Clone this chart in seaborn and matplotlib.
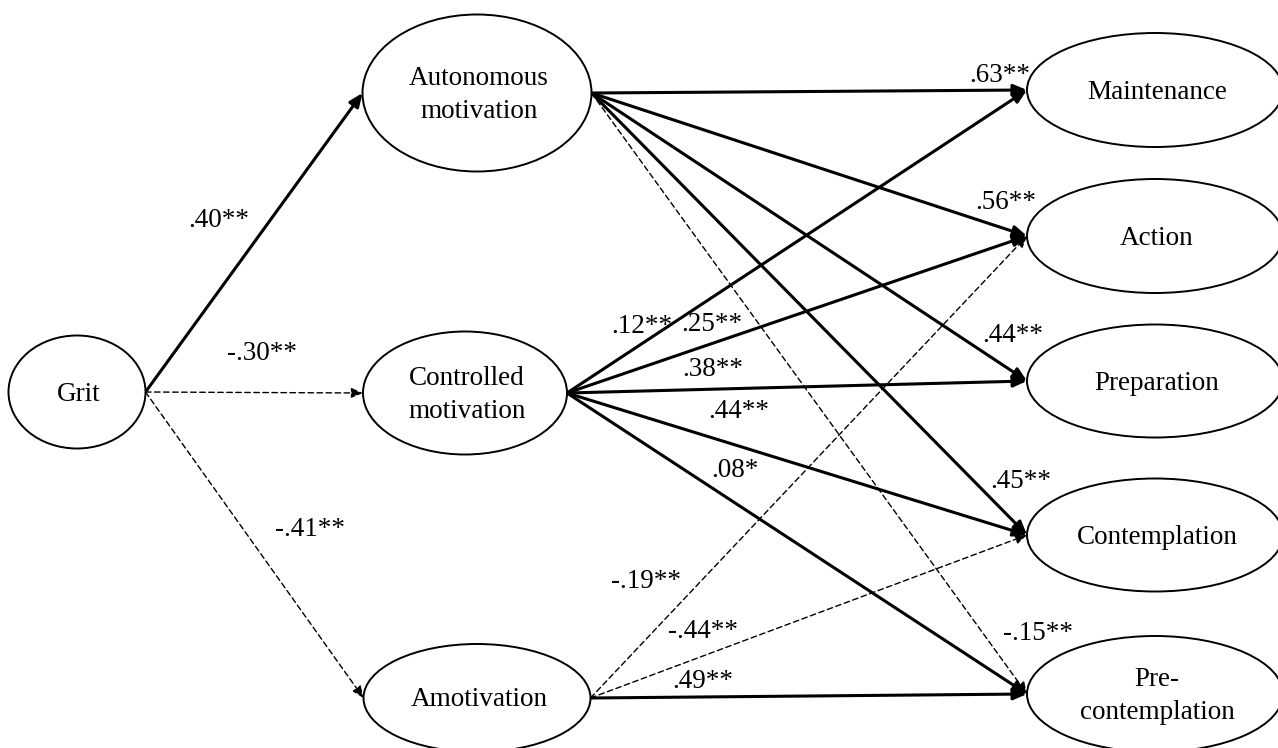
import matplotlib
matplotlib.use("Agg")
import matplotlib.pyplot as plt
from matplotlib.patches import Ellipse
import seaborn as sns

# path model: variables, paths and standardized coefficients
nodes = ["Grit", "Autonomous", "Controlled", "Amotivation",
         "Maintenance", "Action", "Preparation", "Contemplation", "Precontemplation"]
node_text = ["Grit", "Autonomous\nmotivation", "Controlled\nmotivation", "Amotivation",
             "Maintenance", "Action", "Preparation", "Contemplation", "Pre-\ncontemplation"]

sources = ["Grit", "Grit", "Grit",
           "Autonomous", "Autonomous", "Autonomous", "Autonomous", "Autonomous",
           "Controlled", "Controlled", "Controlled", "Controlled", "Controlled",
           "Amotivation", "Amotivation", "Amotivation"]
targets = ["Autonomous", "Controlled", "Amotivation",
           "Maintenance", "Action", "Preparation", "Contemplation", "Precontemplation",
           "Maintenance", "Action", "Preparation", "Contemplation", "Precontemplation",
           "Action", "Contemplation", "Precontemplation"]
coefs = [0.40, -0.30, -0.41,
         0.63, 0.56, 0.44, 0.45, -0.15,
         0.12, 0.25, 0.38, 0.44, 0.08,
         -0.19, -0.44, 0.49]
stars = ["**", "**", "**",
         "**", "**", "**", "**", "**",
         "**", "**", "**", "**", "*",
         "**", "**", "**"]

# layout (canvas pixels): node ellipse centre and size
layout = {
    "Grit": (77, 392, 137, 113),
    "Autonomous": (477, 93, 229, 157),
    "Controlled": (465, 393, 204, 123),
    "Amotivation": (477, 698, 227, 108),
    "Maintenance": (1155, 90, 256, 114),
    "Action": (1155, 236, 256, 114),
    "Preparation": (1155, 381, 256, 113),
    "Contemplation": (1155, 535, 256, 113),
    "Precontemplation": (1155, 694, 256, 116),
}
label_pos = [(219, 220), (262, 353), (310, 529),
             (1000, 75), (1006, 202), (1013, 335), (1021, 481), (1038, 634),
             (642, 326), (712, 324), (713, 369), (739, 411), (735, 470),
             (646, 581), (703, 632), (703, 682)]


def fmt(v, s):
    txt = f"{abs(v):.2f}"[1:]
    return ("-" if v < 0 else "") + txt + s


sns.set_theme(style="white")
plt.rcParams["font.family"] = ["Liberation Serif", "DejaVu Serif"]

fig = plt.figure(figsize=(12.78, 7.48), dpi=100)
ax = fig.add_axes([0, 0, 1, 1])
ax.set_xlim(0, 1278)
ax.set_ylim(748, 0)
ax.axis("off")

# nodes
for name, text in zip(nodes, node_text):
    cx, cy, w, h = layout[name]
    ax.add_patch(Ellipse((cx, cy), w, h, facecolor="white", edgecolor="black",
                         lw=1.4, zorder=3))
    ax.text(cx + 2, cy + 2, text, ha="center", va="center", fontsize=19.5,
            linespacing=1.45, color="black", zorder=4)

# paths
for src, tgt, v, s, (lx, ly) in zip(sources, targets, coefs, stars, label_pos):
    sx, sy, sw, _ = layout[src]
    tx, ty, tw, _ = layout[tgt]
    start = (sx + sw / 2, sy)
    end = (tx - tw / 2, ty)
    if v < 0:
        props = dict(arrowstyle="-|>,head_length=0.35,head_width=0.15",
                     mutation_scale=20, lw=1.0, linestyle=(0, (4, 2.5)),
                     color="black", shrinkA=0, shrinkB=0)
    else:
        props = dict(arrowstyle="-|>,head_length=0.4,head_width=0.17",
                     mutation_scale=20, lw=2.2, color="black",
                     shrinkA=0, shrinkB=0)
    ax.annotate("", xy=end, xytext=start, arrowprops=props, zorder=2)
    ax.text(lx, ly, fmt(v, s), ha="center", va="center", fontsize=19.5,
            color="black", zorder=5)

fig.savefig("out.png", dpi=100, facecolor="white")
